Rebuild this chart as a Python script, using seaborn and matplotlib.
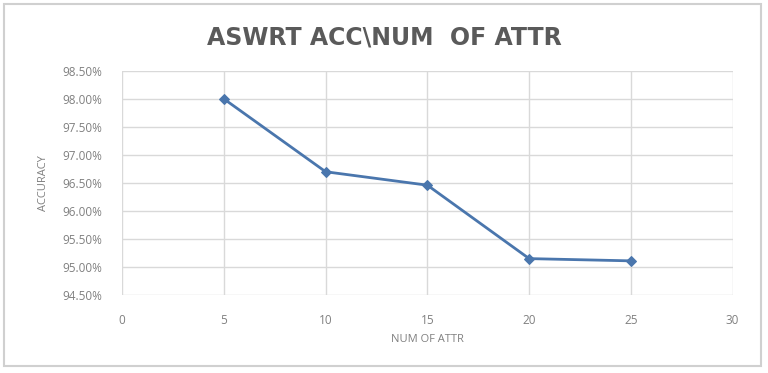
import matplotlib
matplotlib.use("Agg")
import matplotlib.pyplot as plt
import matplotlib.ticker as mticker
from matplotlib.patches import Rectangle
import seaborn as sns
import pandas as pd

num_attr = [5, 10, 15, 20, 25]
accuracy = [98.00, 96.70, 96.46, 95.15, 95.11]
x_ticks = [0, 5, 10, 15, 20, 25, 30]
y_ticks = [94.5, 95.0, 95.5, 96.0, 96.5, 97.0, 97.5, 98.0, 98.5]

df = pd.DataFrame({"num_attr": num_attr, "accuracy": accuracy})

sns.set_style("white")
plt.rcParams["font.family"] = ["Open Sans", "DejaVu Sans"]

fig = plt.figure(figsize=(7.68, 3.73), dpi=100)
ax = fig.add_axes([0.159, 0.209, 0.795, 0.601])

sns.lineplot(data=df, x="num_attr", y="accuracy", ax=ax, color="#4a76ad",
             linewidth=2, marker="D", markersize=5.5, markeredgecolor="#4a76ad")

ax.set_xlim(0, 30)
ax.set_ylim(94.5, 98.5)
ax.set_xticks(x_ticks)
ax.set_yticks(y_ticks)
ax.yaxis.set_major_formatter(mticker.FuncFormatter(lambda v, p: f"{v:.2f}%"))
ax.grid(True, color="#d9d9d9", linewidth=1)
for s in ax.spines.values():
    s.set_visible(False)
ax.tick_params(axis="both", length=0, labelsize=8.5, colors="#808080", pad=14)
ax.tick_params(axis="y", pad=14)

ax.set_xlabel("NUM OF ATTR", fontsize=8, color="#808080", labelpad=5)
ax.set_ylabel("ACCURACY", fontsize=8, color="#808080", labelpad=10)

fig.text(0.5, 0.9, "ASWRT ACC\\NUM  OF ATTR", ha="center", va="center",
         fontsize=17, fontweight="bold", color="#5a5a5a",
         family=["DejaVu Sans"])

fig.patches.append(Rectangle((0.005, 0.02), 0.986, 0.97, transform=fig.transFigure,
                             fill=False, edgecolor="#d0d0d0", linewidth=1.5))

fig.savefig("out.png", dpi=100)
